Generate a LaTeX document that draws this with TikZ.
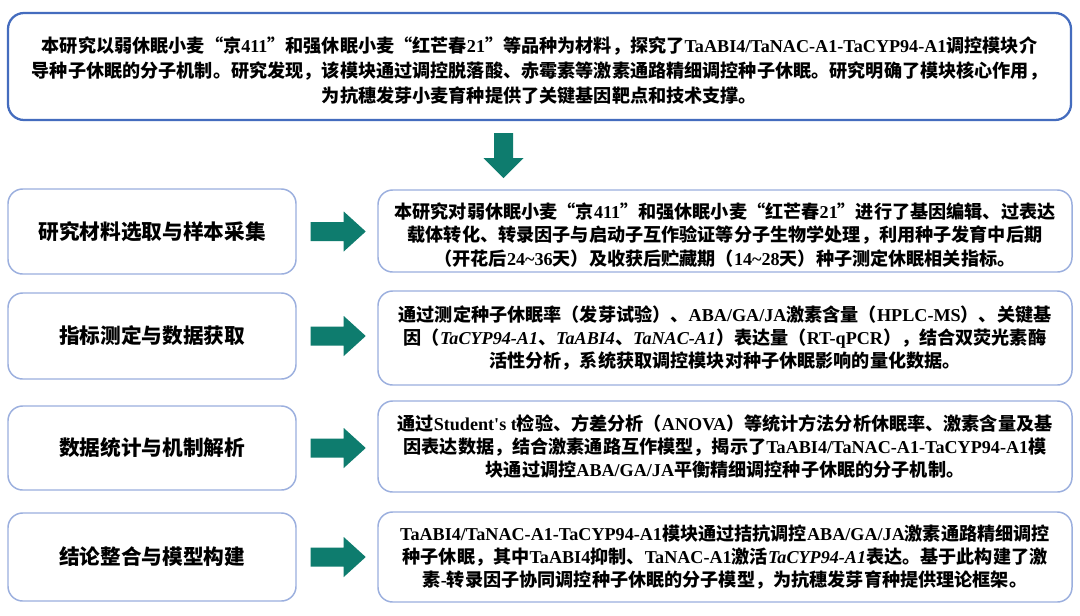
\documentclass[tikz,border=0pt]{standalone}
\usepackage{fontspec}
\setmainfont{Noto Sans CJK SC}
\newfontfamily\latinfont{Liberation Serif}
\usetikzlibrary{calc}
\newcommand\enf[1]{{\latinfont\bfseries #1}}
\newcommand\eni[1]{{\latinfont\bfseries\itshape #1}}
\definecolor{topblue}{RGB}{68,108,190}
\definecolor{boxblue}{RGB}{155,175,222}
\definecolor{arrowteal}{RGB}{14,124,110}
\tikzset{
  topbox/.style={draw=topblue, line width=1.7pt, rounded corners=12pt, inner sep=0pt},
  toptext/.style={align=center, font=\fontsize{13.6}{18.75}\selectfont\bfseries, inner sep=0pt},
  lbox/.style={draw=boxblue, line width=1.1pt, rounded corners=11pt,
    font=\fontsize{15.5}{18}\selectfont\bfseries, inner sep=0pt, minimum width={288*0.75pt}},
  rbox/.style={draw=boxblue, line width=1.1pt, rounded corners=11pt, inner sep=0pt, minimum width={694*0.75pt}},
  rtext/.style={align=center, font=\fontsize{13.6}{17.6}\selectfont\bfseries, inner sep=0pt},
  blk/.style={fill=arrowteal, draw=none}
}
\begin{document}
\begin{tikzpicture}[x=0.75pt,y=-0.75pt]
\useasboundingbox (0,0) rectangle (1080,615);
\fill[white] (0,0) rectangle (1080,615);

\node[topbox, minimum width={1063*0.75pt}, minimum height={107*0.75pt}] (top) at (539.5,66.5) {};
\node[toptext] (toptxt) at ($(top.center)+(0,4)$)
{本研究以弱休眠小麦“京\enf{411}”和强休眠小麦“红芒春\enf{21}”等品种为材料，探究了\enf{TaABI4/TaNAC-A1-TaCYP94-A1}调控模块介\\
导种子休眠的分子机制。研究发现，该模块通过调控脱落酸、赤霉素等激素通路精细调控种子休眠。研究明确了模块核心作用，\\
为抗穗发芽小麦育种提供了关键基因靶点和技术支撑。};

\node[lbox, minimum height={85*0.75pt}] (L1) at (152,231.5) {研究材料选取与样本采集};
\node[lbox, minimum height={86*0.75pt}] (L2) at (152,336) {指标测定与数据获取};
\node[lbox, minimum height={84*0.75pt}] (L3) at (152,448) {数据统计与机制解析};
\node[lbox, minimum height={88*0.75pt}] (L4) at (152,557) {结论整合与模型构建};

\node[rbox, minimum height={82*0.75pt}] (R1) at (725,231) {};
\node[rtext] (R1t) at ($(R1.center)+(0,4)$)
{本研究对弱休眠小麦“京\enf{411}”和强休眠小麦“红芒春\enf{21}”进行了基因编辑、过表达\\
载体转化、转录因子与启动子互作验证等分子生物学处理，利用种子发育中后期\\
（开花后\enf{24\textasciitilde36}天）及收获后贮藏期（\enf{14\textasciitilde28}天）种子测定休眠相关指标。};

\node[rbox, minimum height={94*0.75pt}] (R2) at (725,338) {};
\node[rtext] (R2t) at ($(R2.center)+(0,0)$)
{通过测定种子休眠率（发芽试验）、\enf{ABA/GA/JA}激素含量（\enf{HPLC-MS}）、关键基\\
因（\eni{TaCYP94-A1}、\eni{TaABI4}、\eni{TaNAC-A1}）表达量（\enf{RT-qPCR}），结合双荧光素酶\\
活性分析，系统获取调控模块对种子休眠影响的量化数据。};

\node[rbox, minimum height={91*0.75pt}] (R3) at (725,446.5) {};
\node[rtext] (R3t) at ($(R3.center)+(0,0)$)
{通过\enf{Student's t}检验、方差分析（\enf{ANOVA}）等统计方法分析休眠率、激素含量及基\\
因表达数据，结合激素通路互作模型，揭示了\enf{TaABI4/TaNAC-A1-TaCYP94-A1}模\\
块通过调控\enf{ABA/GA/JA}平衡精细调控种子休眠的分子机制。};

\node[rbox, minimum height={90*0.75pt}] (R4) at (725,557) {};
\node[rtext] (R4t) at ($(R4.center)+(0,0)$)
{\enf{TaABI4/TaNAC-A1-TaCYP94-A1}模块通过拮抗调控\enf{ABA/GA/JA}激素通路精细调控\\
种子休眠，其中\enf{TaABI4}抑制、\enf{TaNAC-A1}激活\eni{TaCYP94-A1}表达。基于此构建了激\\
素\enf{-}转录因子协同调控种子休眠的分子模型，为抗穗发芽育种提供理论框架。};

% down arrow
\coordinate (dtop) at ($(top.south)+(-36,0)$);
\fill[blk] ($(dtop)+(-9.5,12)$) -- ($(dtop)+(9.5,12)$) -- ($(dtop)+(9.5,37)$) -- ($(dtop)+(20,37)$)
  -- ($(dtop)+(0,57)$) -- ($(dtop)+(-20,37)$) -- ($(dtop)+(-9.5,37)$) -- cycle;

% right arrows
\foreach \i in {1,2,3,4}{
  \fill[blk] ($(L\i.east)+(14,-9.5)$) -- ($(L\i.east)+(47,-9.5)$) -- ($(L\i.east)+(47,-20)$)
    -- ($(L\i.east)+(69,0)$) -- ($(L\i.east)+(47,20)$) -- ($(L\i.east)+(47,9.5)$)
    -- ($(L\i.east)+(14,9.5)$) -- cycle;
}
\end{tikzpicture}
\end{document}
